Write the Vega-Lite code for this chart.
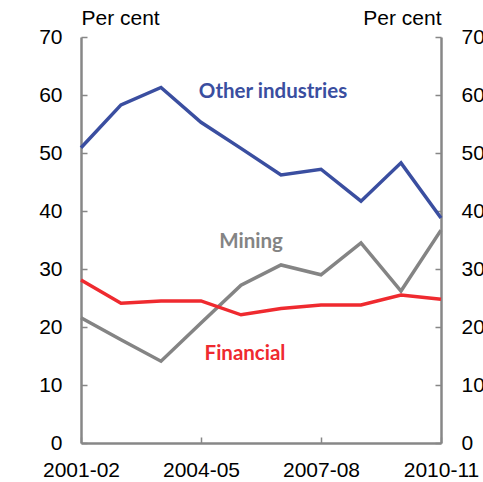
{
  "$schema": "https://vega.github.io/schema/vega-lite/v6.json",
  "width": 360,
  "height": 406,
  "autosize": "none",
  "padding": {"left": 81, "top": 37, "right": 42, "bottom": 39},
  "background": "white",
  "config": {
    "view": {"stroke": null}
  },
  "resolve": {"scale": {"y": "independent"}},
  "layer": [
    {
      "data": {
        "values": [
          {"year": 2001, "series": "Other industries", "value": 50.9},
          {"year": 2002, "series": "Other industries", "value": 58.3},
          {"year": 2003, "series": "Other industries", "value": 61.3},
          {"year": 2004, "series": "Other industries", "value": 55.3},
          {"year": 2005, "series": "Other industries", "value": 50.8},
          {"year": 2006, "series": "Other industries", "value": 46.2},
          {"year": 2007, "series": "Other industries", "value": 47.2},
          {"year": 2008, "series": "Other industries", "value": 41.7},
          {"year": 2009, "series": "Other industries", "value": 48.3},
          {"year": 2010, "series": "Other industries", "value": 38.8},
          {"year": 2001, "series": "Mining", "value": 21.6},
          {"year": 2002, "series": "Mining", "value": 17.8},
          {"year": 2003, "series": "Mining", "value": 14.1},
          {"year": 2004, "series": "Mining", "value": 20.7},
          {"year": 2005, "series": "Mining", "value": 27.2},
          {"year": 2006, "series": "Mining", "value": 30.7},
          {"year": 2007, "series": "Mining", "value": 29.0},
          {"year": 2008, "series": "Mining", "value": 34.5},
          {"year": 2009, "series": "Mining", "value": 26.2},
          {"year": 2010, "series": "Mining", "value": 36.7},
          {"year": 2001, "series": "Financial", "value": 28.1},
          {"year": 2002, "series": "Financial", "value": 24.1},
          {"year": 2003, "series": "Financial", "value": 24.5},
          {"year": 2004, "series": "Financial", "value": 24.5},
          {"year": 2005, "series": "Financial", "value": 22.1},
          {"year": 2006, "series": "Financial", "value": 23.2},
          {"year": 2007, "series": "Financial", "value": 23.8},
          {"year": 2008, "series": "Financial", "value": 23.8},
          {"year": 2009, "series": "Financial", "value": 25.5},
          {"year": 2010, "series": "Financial", "value": 24.8}
        ]
      },
      "mark": {"type": "line", "strokeWidth": 3.5, "clip": false},
      "encoding": {
        "x": {
          "field": "year",
          "type": "quantitative",
          "scale": {"domain": [2001, 2010], "nice": false, "zero": false},
          "axis": {
            "title": null,
            "values": [2001, 2004, 2007, 2010],
            "labelExpr": "datum.value + '-' + slice(toString(datum.value + 1), 2)",
            "labelFont": "Liberation Sans",
            "labelFontSize": 21,
            "labelColor": "black",
            "labelFlush": false,
            "labelPadding": 22,
            "tickSize": -6,
            "tickColor": "#878787",
            "tickWidth": 1.5,
            "domainColor": "#878787",
            "domainWidth": 2.5,
            "grid": false
          }
        },
        "y": {
          "field": "value",
          "type": "quantitative",
          "scale": {"domain": [0, 70], "nice": false},
          "axis": {
            "orient": "left",
            "values": [0, 10, 20, 30, 40, 50, 60, 70],
            "title": "Per cent",
            "titleFont": "Liberation Sans",
            "titleFontSize": 21,
            "titleFontWeight": "normal",
            "titleColor": "black",
            "titleAngle": 0,
            "titleAlign": "left",
            "titleBaseline": "middle",
            "titleX": 0,
            "titleY": -19,
            "labelFont": "Liberation Sans",
            "labelFontSize": 21,
            "labelColor": "black",
            "labelPadding": 25,
            "tickSize": -6,
            "tickColor": "#878787",
            "tickWidth": 1.5,
            "domainColor": "#878787",
            "domainWidth": 2.5,
            "grid": false
          }
        },
        "color": {
          "field": "series",
          "type": "nominal",
          "scale": {
            "domain": ["Other industries", "Mining", "Financial"],
            "range": ["#3a4ea0", "#848484", "#ef2a2f"]
          },
          "legend": null
        }
      }
    },
    {
      "data": {
        "values": [
          {"year": 2005.8, "value": 60.5, "series": "Other industries"},
          {"year": 2005.25, "value": 34.7, "series": "Mining"},
          {"year": 2005.1, "value": 15.3, "series": "Financial"}
        ]
      },
      "mark": {"type": "text", "font": "Lato", "fontWeight": "bold", "fontSize": 20.5, "align": "center", "baseline": "middle"},
      "encoding": {
        "x": {"field": "year", "type": "quantitative"},
        "y": {
          "field": "value",
          "type": "quantitative",
          "scale": {"domain": [0, 70], "nice": false},
          "axis": {
            "orient": "right",
            "values": [0, 10, 20, 30, 40, 50, 60, 70],
            "title": "Per cent",
            "titleFont": "Liberation Sans",
            "titleFontSize": 21,
            "titleFontWeight": "normal",
            "titleColor": "black",
            "titleAngle": 0,
            "titleAlign": "right",
            "titleBaseline": "middle",
            "titleX": 0,
            "titleY": -19,
            "labelFont": "Liberation Sans",
            "labelFontSize": 21,
            "labelColor": "black",
            "labelPadding": 26,
            "tickSize": -6,
            "tickColor": "#878787",
            "tickWidth": 1.5,
            "domainColor": "#878787",
            "domainWidth": 2.5,
            "grid": false
          }
        },
        "text": {"field": "series"},
        "color": {
          "field": "series",
          "type": "nominal",
          "scale": {
            "domain": ["Other industries", "Mining", "Financial"],
            "range": ["#3a4ea0", "#848484", "#ef2a2f"]
          },
          "legend": null
        }
      }
    }
  ]
}
